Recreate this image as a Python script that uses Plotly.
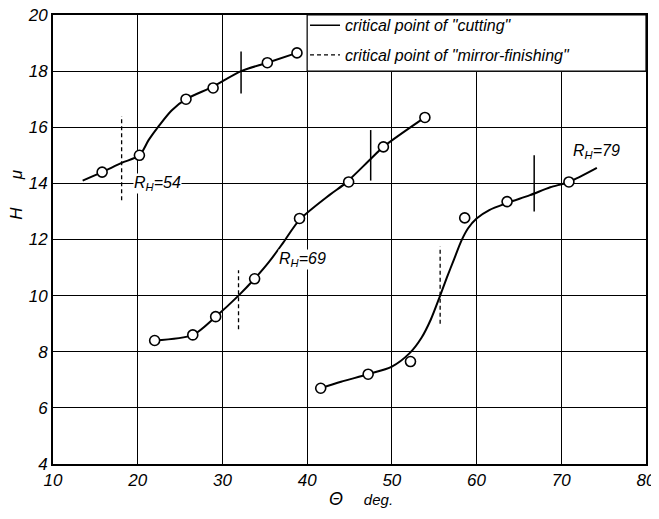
import plotly.graph_objects as go

# ---- measured points (theta in deg, H in micron) ----
r54_theta = [15.8, 20.2, 25.7, 28.9, 35.3, 38.8]
r54_h = [14.4, 15.0, 17.0, 17.4, 18.3, 18.65]
r69_theta = [22.0, 26.5, 29.2, 33.8, 39.1, 44.9, 49.0, 53.9]
r69_h = [8.4, 8.6, 9.25, 10.6, 12.75, 14.05, 15.3, 16.35]
r79_theta = [41.6, 47.2, 52.2, 58.6, 63.6, 70.9]
r79_h = [6.7, 7.2, 7.65, 12.77, 13.35, 14.05]

# ---- fitted curves as drawn in the figure ----
c54_theta = [13.5, 15.8, 18.1, 20.2, 21.3, 22.5, 24.0, 25.7, 28.9, 32.2, 35.3, 38.8]
c54_h = [14.1, 14.4, 14.73, 15.0, 15.55, 16.05, 16.6, 17.0, 17.45, 18.0, 18.3, 18.65]
c69_theta = [22.0, 26.5, 29.2, 31.9, 33.8, 35.5, 37.2, 39.1, 42.7, 44.5, 47.5, 49.0, 53.9]
c69_h = [8.4, 8.6, 9.25, 10.0, 10.6, 11.2, 11.9, 12.7, 13.6, 14.0, 14.87, 15.3, 16.35]
c79_theta = [41.6, 44.0, 47.2, 50.0, 52.1, 53.5, 54.6, 55.7, 56.5, 57.35, 58.2, 59.0, 60.0, 61.5, 63.6, 66.3, 68.7, 70.9, 74.2]
c79_h = [6.7, 6.93, 7.2, 7.47, 7.95, 8.5, 9.15, 10.0, 10.65, 11.3, 11.95, 12.4, 12.75, 13.05, 13.3, 13.58, 13.86, 14.05, 14.55]

# ---- critical points (vertical marks) ----
cut_theta = [32.2, 47.5, 66.8]
cut_lo = [17.2, 14.1, 13.0]
cut_hi = [18.7, 15.9, 15.0]
mir_theta = [18.1, 31.9, 55.7]
mir_lo = [13.4, 8.8, 9.0]
mir_hi = [16.4, 10.9, 11.75]

# ---- labels ----
series_labels = ["R<sub>H</sub>=54", "R<sub>H</sub>=69", "R<sub>H</sub>=79"]
label_theta = [19.4, 36.6, 71.3]
label_h = [14.0, 11.3, 15.14]
legend_names = ['critical point of "cutting"', 'critical point of "mirror-finishing"']
x_ticks = [10, 20, 30, 40, 50, 60, 70, 80]
y_ticks = [4, 6, 8, 10, 12, 14, 16, 18, 20]

fig = go.Figure()

for cx, cy in [(c54_theta, c54_h), (c69_theta, c69_h), (c79_theta, c79_h)]:
    fig.add_trace(go.Scatter(x=cx, y=cy, mode="lines", line=dict(color="black", width=2, shape="spline", smoothing=0.8),
                             showlegend=False, hoverinfo="skip"))

for px, py in [(r54_theta, r54_h), (r69_theta, r69_h), (r79_theta, r79_h)]:
    fig.add_trace(go.Scatter(x=px, y=py, mode="markers",
                             marker=dict(symbol="circle", size=10, color="white", line=dict(color="black", width=1.6)),
                             showlegend=False))


def segs(xs, lo, hi):
    X, Y = [], []
    for x, a, b in zip(xs, lo, hi):
        X += [x, x, None]
        Y += [a, b, None]
    return X, Y

sx, sy = segs(cut_theta, cut_lo, cut_hi)
fig.add_trace(go.Scatter(x=sx, y=sy, mode="lines", line=dict(color="black", width=1.5),
                         name=legend_names[0], legendgroup="cut"))
dx, dy = segs(mir_theta, mir_lo, mir_hi)
fig.add_trace(go.Scatter(x=dx, y=dy, mode="lines", line=dict(color="black", width=1.3, dash="4px,3px"),
                         name=legend_names[1], legendgroup="mir"))

# legend cell: blank out the grid inside the top-right cell region
fig.add_shape(type="rect", xref="x", yref="y", x0=40, x1=80, y0=18, y1=20,
              fillcolor="white", line=dict(color="black", width=1.2), layer="between")

for t, xx, yy in zip(series_labels, label_theta, label_h):
    fig.add_annotation(x=xx, y=yy, text=t, showarrow=False, xanchor="left", yanchor="middle",
                       bgcolor="white", borderpad=0, font=dict(size=16))

fig.add_annotation(xref="paper", yref="paper", x=-0.062, y=0.60, text="H\u00a0\u00a0\u00a0\u00a0\u00a0\u00a0μ",
                   textangle=-90, showarrow=False, xanchor="center", yanchor="middle", font=dict(size=17))
fig.add_annotation(xref="paper", yref="paper", x=0.52, y=-0.077,
                   text="<span style='font-size:18px'>Θ</span>\u00a0\u00a0\u00a0\u00a0\u00a0deg.",
                   showarrow=False, xanchor="center", yanchor="middle", font=dict(size=15))

fig.update_xaxes(range=[10, 80], tickvals=x_ticks, showgrid=True, gridcolor="black", gridwidth=1.3,
                 showline=True, linecolor="black", linewidth=2, mirror=True, ticks="", zeroline=False,
                 tickfont=dict(size=17), automargin=False, ticklabeloverflow="allow")
fig.update_yaxes(range=[4, 20], tickvals=y_ticks, showgrid=True, gridcolor="black", gridwidth=1.3,
                 showline=True, linecolor="black", linewidth=2, mirror=True, ticks="", zeroline=False,
                 tickfont=dict(size=17), automargin=False, ticklabeloverflow="allow")

# page body has an 8px margin: figure sized so the plot box lands where the reference has it
fig.update_layout(
    width=651, height=503,
    margin=dict(l=45, r=13, t=7, b=47, autoexpand=False),
    paper_bgcolor="white", plot_bgcolor="white",
    font=dict(family="Liberation Sans", style="italic", color="black", size=16),
    legend=dict(x=0.425, y=1.015, xanchor="left", yanchor="top", bgcolor="rgba(0,0,0,0)",
                borderwidth=0, font=dict(size=16), tracegroupgap=6),
)

fig.write_html("out.html")
